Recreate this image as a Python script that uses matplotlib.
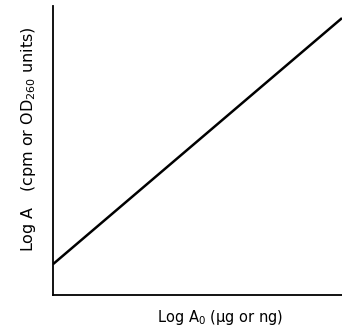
import numpy as np
import matplotlib.pyplot as plt

# Linear response: log A against log A0
log_a0 = [0.0, 1.0]
log_a = [0.107, 0.958]

fig = plt.figure(figsize=(3.42, 3.29), dpi=100)
ax = fig.add_axes([0.155, 0.103, 0.845, 0.879])

ax.plot(log_a0, log_a, color='black', lw=1.8, solid_capstyle='butt')
ax.set_xlim(0, 1)
ax.set_ylim(0, 1)

ax.spines['top'].set_visible(False)
ax.spines['right'].set_visible(False)
ax.spines['left'].set_linewidth(1.3)
ax.spines['bottom'].set_linewidth(1.3)
ax.set_xticks([])
ax.set_yticks([])

ax.set_xlabel('Log A$_0$ (µg or ng)', fontsize=10.5)
ax.set_ylabel('Log A   (cpm or OD$_{260}$ units)', fontsize=11.5)
ax.xaxis.set_label_coords(0.58, -0.045)
ax.yaxis.set_label_coords(-0.052, 0.54)

fig.savefig('out.png', dpi=100)
